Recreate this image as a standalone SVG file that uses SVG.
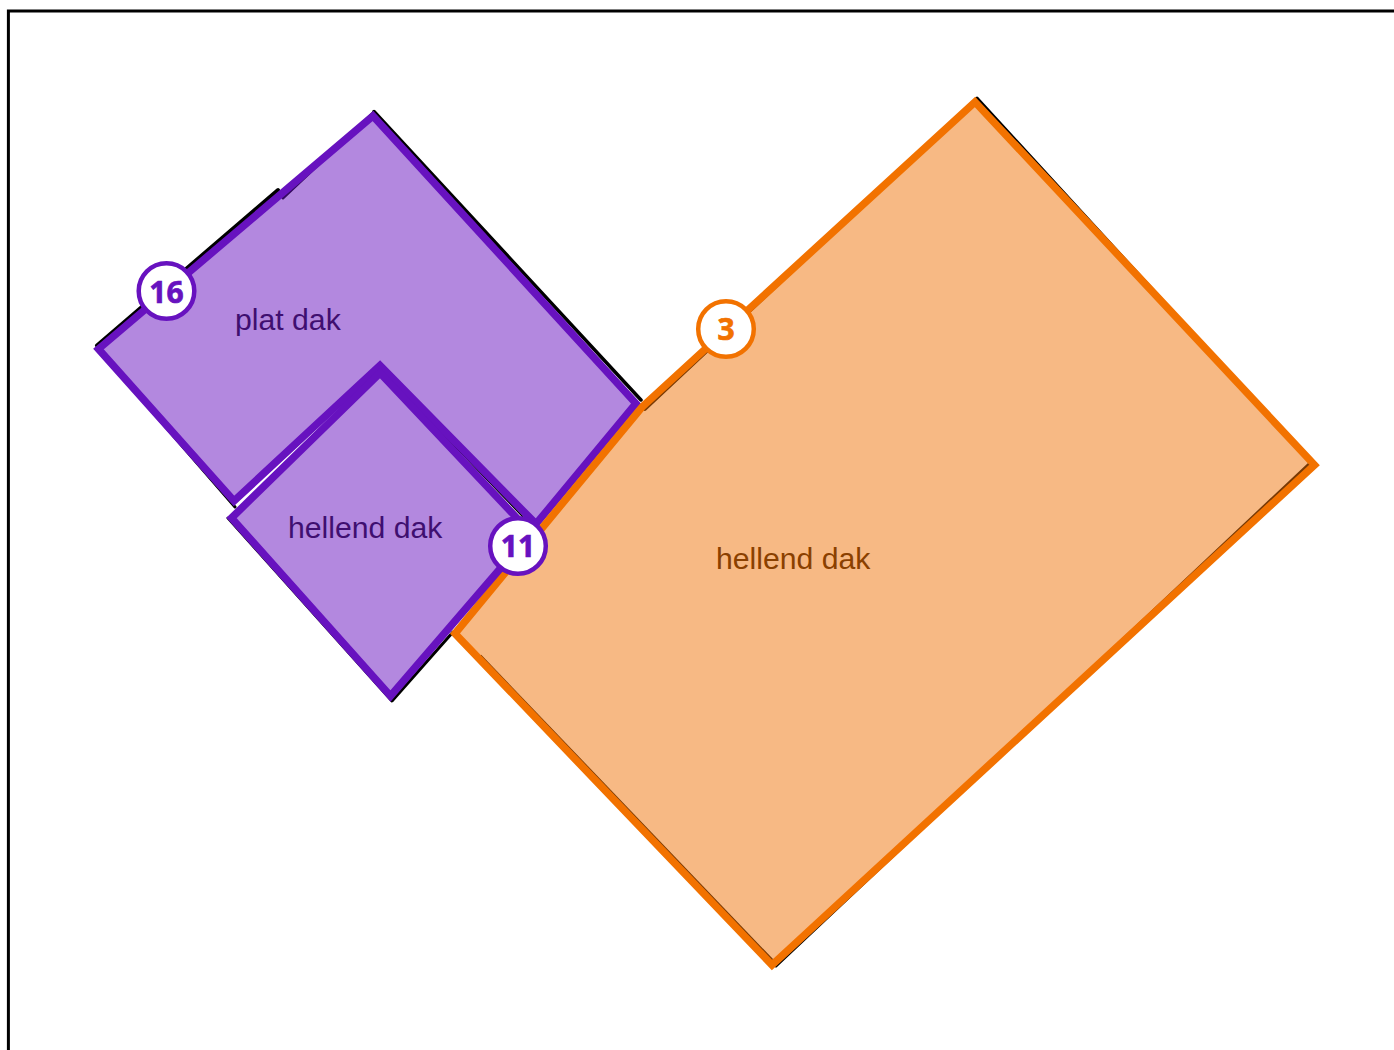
<svg xmlns="http://www.w3.org/2000/svg" width="1394" height="1050" viewBox="0 0 1394 1050">
<style>
.ink{fill:none;stroke:#000;stroke-width:3;stroke-linejoin:round;stroke-linecap:round}
.area{stroke-width:7.500;stroke-linejoin:miter;stroke-miterlimit:10}
.p{fill:#6712bf;fill-opacity:.5;stroke:none}
.pl{fill:none;stroke:#6712bf}
.o{fill:#ef7309;fill-opacity:.5;stroke:none}
.ol{fill:none;stroke:#f27200}
.lab{font-family:"Liberation Sans",Arial,sans-serif;font-size:30.200px}
.badge{font-family:"Open Sans",sans-serif;font-weight:700;font-size:30px;text-anchor:middle;stroke-width:.7}
.disc{fill:#fff;stroke-width:4.500}
</style>
<rect width="1394" height="1050" fill="#fff"/>
<path d="M8.400 1050V11H1394" fill="none" stroke="#000" stroke-width="3"/>
<g id="connectors">
<path class="ink" style="stroke-width:4" d="M97 345.500L278 190"/>
<path class="ink" d="M283 198L373 113M98 349L235 507"/>
<path class="ink" style="stroke-width:3.500" d="M374 111.500L641 400"/>
<path class="ink" d="M228 518L392 701L453 632"/>
<path class="ink" style="stroke-width:1.500" d="M381 370L524 518"/>
<path class="ink" d="M645 409.500L977 98L1309 460M1309 464L776 966"/>
<path class="ink" style="stroke-width:3.500;stroke-linecap:butt" d="M480 656L772 960.500"/>
</g>
<g id="node-plat-dak">
<path class="p" d="M373 116L636 403.500L536 524L380 365.500L234 501L98.500 349Z"/>
<path class="pl area" d="M373 116L636 403.500L536 524L380 365.500L234 501L98.500 349Z"/>
<text class="lab" x="235" y="330" fill="#3f0f70">plat dak</text>
</g>
<g id="node-hellend-dak-oranje">
<path class="o" d="M975 102L1314.500 465L772 965L455 633.500L642 407Z"/>
<path class="ol area" d="M975 102L1314.500 465L772 965L455 633.500L642 407Z"/>
<text class="lab" x="716" y="569" fill="#8a4000">hellend dak</text>
</g>
<g id="node-hellend-dak-paars">
<path class="p" d="M380 373L531 533L390.500 696L231.500 518Z"/>
<path class="pl area" d="M380 373L531 533L390.500 696L231.500 518Z"/>
<text class="lab" x="288" y="538" fill="#3f0f70">hellend dak</text>
</g>
<g id="badge-16">
<circle class="disc" cx="166.500" cy="291" r="27.800" stroke="#6712bf"/>
<text class="badge" x="166.500" y="302.500" fill="#6712bf" stroke="#6712bf">16</text>
</g>
<g id="badge-11">
<circle class="disc" cx="518" cy="546" r="27.800" stroke="#6712bf"/>
<text class="badge" x="518" y="556.700" fill="#6712bf" stroke="#6712bf">11</text>
</g>
<g id="badge-3">
<circle class="disc" cx="726" cy="329" r="27.800" stroke="#f27200"/>
<text class="badge" x="726" y="340" fill="#f27200" stroke="#f27200">3</text>
</g>
</svg>
